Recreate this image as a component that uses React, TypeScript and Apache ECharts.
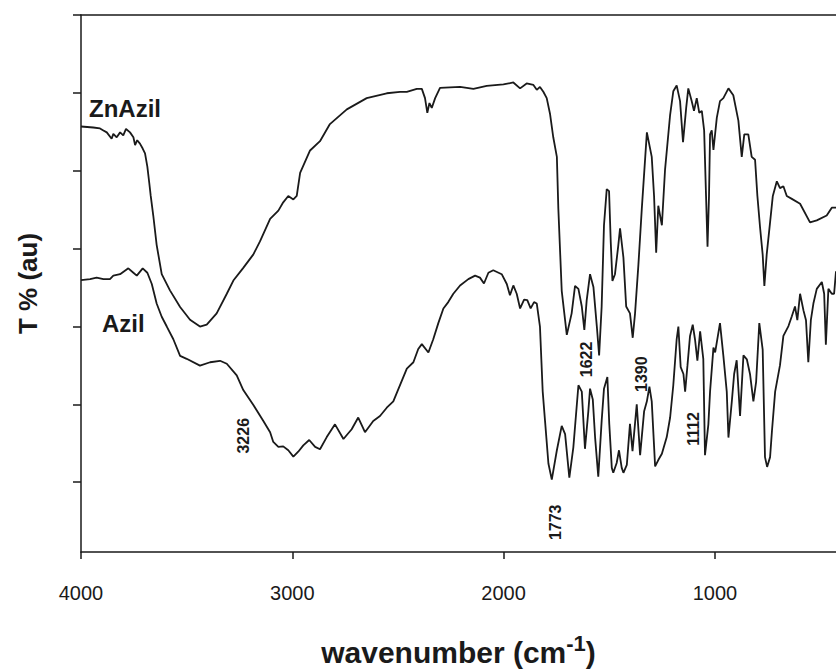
import React, { useEffect, useRef } from "react";
import * as echarts from "echarts";

// Axis extents (wavenumber runs right-to-left, transmittance in arbitrary units)
const X_RANGE: [number, number] = [427, 4000];
const Y_RANGE: [number, number] = [0, 109.8];
const X_TICKS = [4000, 3000, 2000, 1000];
const Y_TICKS = [14.3, 30.2, 46.1, 62.0, 77.9, 93.9, 109.8];

const SERIES_NAMES = ["ZnAzil", "Azil"];

// ZnAzil spectrum: [wavenumber cm-1, T (au)]
const ZN_AZIL: [number, number][] = [
  [4000, 87.0], [3942, 86.8], [3910, 86.6], [3894, 86.2], [3878, 85.8], [3855, 84.5],
  [3847, 85.5], [3831, 84.8], [3815, 85.8], [3800, 85.2], [3787, 86.5], [3768, 85.8],
  [3752, 84.8], [3744, 83.2], [3734, 84.2], [3721, 83.5], [3708, 82.5], [3697, 81.5],
  [3686, 78.8], [3677, 75.5], [3670, 72.8], [3658, 68.8], [3642, 62.8], [3618, 56.8],
  [3579, 53.5], [3531, 50.1], [3484, 47.5], [3437, 46.1], [3405, 46.5], [3358, 48.8],
  [3310, 52.8], [3279, 55.5], [3232, 58.1], [3185, 60.8], [3153, 63.5], [3105, 68.1],
  [3066, 69.8], [3043, 71.5], [3019, 72.8], [2995, 72.1], [2979, 72.8], [2963, 77.5],
  [2916, 82.1], [2869, 84.0], [2822, 87.5], [2742, 90.5], [2648, 92.8], [2553, 93.8],
  [2490, 94.1], [2458, 94.1], [2411, 94.7], [2387, 94.7], [2372, 92.8], [2361, 89.8],
  [2351, 91.8], [2340, 90.8], [2324, 92.8], [2301, 94.9], [2206, 95.1], [2143, 94.7],
  [2080, 95.3], [2001, 95.6], [1954, 96.0], [1922, 94.8], [1891, 95.8], [1859, 95.5],
  [1843, 94.5], [1828, 95.1], [1812, 94.1], [1796, 92.8], [1780, 89.5], [1765, 84.8],
  [1748, 80.8], [1741, 70.2], [1725, 53.4], [1701, 44.4], [1678, 48.8], [1662, 54.4],
  [1646, 53.8], [1630, 50.2], [1618, 45.4], [1607, 51.4], [1591, 56.8], [1575, 54.2],
  [1559, 46.2], [1548, 40.2], [1536, 50.2], [1525, 66.8], [1512, 74.2], [1501, 73.8],
  [1493, 63.4], [1485, 55.4], [1473, 56.8], [1457, 62.8], [1449, 66.2], [1433, 60.2],
  [1420, 50.2], [1402, 48.8], [1389, 43.8], [1378, 48.8], [1362, 58.8], [1346, 70.2],
  [1322, 85.8], [1299, 80.8], [1288, 72.8], [1278, 61.2], [1268, 70.8], [1251, 66.8],
  [1236, 78.2], [1212, 89.4], [1197, 94.2], [1181, 95.4], [1165, 92.2], [1151, 83.8],
  [1136, 90.8], [1126, 94.8], [1110, 92.2], [1099, 90.2], [1086, 92.8], [1074, 89.8],
  [1062, 90.2], [1051, 86.2], [1042, 72.8], [1035, 62.4], [1028, 72.8], [1023, 85.4],
  [1015, 86.2], [1007, 82.2], [991, 88.8], [976, 92.2], [960, 92.8], [936, 94.8],
  [913, 93.4], [889, 88.2], [873, 80.8], [861, 85.4], [842, 85.4], [826, 80.8],
  [810, 80.2], [799, 72.8], [786, 66.2], [774, 60.8], [766, 54.4], [755, 60.8],
  [739, 67.4], [726, 72.8], [707, 75.8], [692, 74.4], [676, 74.8], [660, 72.8],
  [636, 72.2], [597, 71.2], [550, 67.4], [518, 67.8], [471, 68.8], [447, 70.4], [427, 70.4],
];

// Azil spectrum: [wavenumber cm-1, T (au)]
const AZIL: [number, number][] = [
  [4000, 55.6], [3957, 55.8], [3926, 56.1], [3894, 55.8], [3863, 55.8], [3847, 56.5],
  [3815, 56.8], [3776, 58.0], [3752, 57.1], [3736, 56.5], [3708, 58.0], [3686, 57.1],
  [3665, 54.8], [3642, 50.8], [3618, 48.1], [3594, 46.1], [3563, 43.5], [3531, 40.1],
  [3500, 39.5], [3437, 38.1], [3389, 38.8], [3342, 39.1], [3310, 38.5], [3263, 36.1],
  [3232, 33.1], [3185, 30.1], [3137, 26.8], [3105, 24.5], [3090, 22.5], [3066, 21.5],
  [3043, 21.6], [3019, 20.8], [2995, 19.5], [2972, 20.5], [2948, 21.8], [2920, 22.9],
  [2892, 21.5], [2869, 21.0], [2837, 23.5], [2798, 26.1], [2758, 23.1], [2719, 25.1],
  [2688, 27.5], [2656, 24.5], [2617, 26.8], [2585, 27.8], [2553, 29.5], [2522, 30.8],
  [2503, 32.8], [2458, 37.5], [2427, 38.8], [2404, 41.5], [2387, 42.5], [2356, 40.8],
  [2333, 43.5], [2309, 46.8], [2285, 49.8], [2262, 51.1], [2238, 52.8], [2206, 54.5],
  [2167, 55.8], [2135, 56.5], [2112, 56.1], [2093, 54.9], [2072, 57.1], [2049, 57.6],
  [2009, 56.8], [1985, 54.8], [1970, 52.5], [1954, 54.5], [1938, 52.8], [1922, 49.8],
  [1903, 51.6], [1888, 51.5], [1872, 49.8], [1856, 51.1], [1843, 50.8], [1828, 46.1],
  [1815, 32.8], [1804, 26.8], [1788, 18.1], [1772, 14.8], [1748, 20.8], [1725, 25.8],
  [1709, 24.1], [1689, 15.2], [1670, 21.4], [1646, 34.1], [1630, 32.8], [1615, 21.1],
  [1599, 28.8], [1591, 33.4], [1578, 31.2], [1567, 23.4], [1552, 15.4], [1536, 26.8],
  [1525, 33.4], [1509, 35.8], [1500, 26.2], [1488, 17.2], [1481, 16.2], [1465, 18.2],
  [1454, 20.8], [1441, 17.2], [1433, 16.2], [1417, 17.8], [1402, 26.2], [1390, 20.6],
  [1370, 30.2], [1354, 19.8], [1335, 28.8], [1322, 30.8], [1310, 33.8], [1299, 30.8],
  [1283, 17.5], [1268, 18.8], [1251, 20.1], [1228, 23.5], [1212, 27.5], [1197, 34.1],
  [1181, 43.5], [1173, 46.1], [1162, 37.8], [1149, 36.4], [1141, 32.8], [1130, 38.1],
  [1118, 44.1], [1105, 46.5], [1094, 43.4], [1083, 39.1], [1070, 45.1], [1055, 39.5],
  [1047, 19.8], [1031, 26.1], [1023, 32.8], [1007, 41.8], [999, 40.8], [976, 46.8],
  [960, 40.1], [944, 32.8], [936, 23.4], [920, 30.8], [909, 36.4], [897, 39.2],
  [881, 27.8], [865, 40.2], [849, 39.4], [834, 36.4], [818, 30.8], [805, 34.8],
  [790, 46.8], [774, 41.4], [763, 19.4], [753, 17.4], [739, 19.4], [730, 24.8],
  [715, 32.8], [692, 38.2], [676, 44.2], [652, 46.2], [636, 48.2], [621, 50.2],
  [610, 47.4], [597, 52.8], [581, 49.4], [569, 47.4], [558, 38.8], [546, 47.4],
  [534, 50.8], [518, 53.8], [494, 55.2], [483, 52.8], [475, 42.4], [463, 53.8],
  [447, 52.8], [436, 52.8], [427, 57.4],
];

// Band assignments written beside the spectra: [wavenumber, label anchor height]
const PEAK_TEXT = ["3226", "1773", "1622", "1390", "1112"];
const PEAK_ANCHORS: [number, number][] = [
  [3226, 25.2], [1773, 7.5], [1622, 40.8], [1390, 37.8], [1112, 26.6],
];
const PEAK_SHIFT = [-1, 4, 3, 9, 2];

const FONT = '"Liberation Sans", Arial, Helvetica, sans-serif';
const INK = "#1a1a1a";

export default function App() {
  const ref = useRef<HTMLDivElement>(null);

  useEffect(() => {
    document.body.style.margin = "0";
    const chart = echarts.init(ref.current!, undefined, { renderer: "svg" });

    const axisLineStyle = { color: INK, width: 1.5 };
    const peakLabelStyle = {
      show: true,
      position: "inside",
      rotate: 90,
      fontSize: 16,
      fontWeight: "bold",
      color: INK,
      textBorderWidth: 0,
      textBorderColor: "transparent",
      fontFamily: FONT,
    };

    chart.setOption({
      animation: false,
      backgroundColor: "#ffffff",
      textStyle: { fontFamily: FONT },
      grid: { left: 81, right: 0, top: 15, bottom: 108 },
      xAxis: [
        {
          type: "value",
          min: X_RANGE[0],
          max: X_RANGE[1],
          inverse: true,
          axisLine: { show: true, onZero: false, lineStyle: axisLineStyle },
          axisTick: { show: true, length: 7, customValues: X_TICKS, lineStyle: axisLineStyle },
          axisLabel: {
            customValues: X_TICKS,
            formatter: (v: number) => String(v),
            fontSize: 20,
            color: INK,
            margin: 31,
            fontFamily: FONT,
          },
          splitLine: { show: false },
          name: "{t|wavenumber (cm}{s|-1}{t|)}",
          nameLocation: "middle",
          nameGap: 80,
          nameTextStyle: {
            rich: {
              t: { fontSize: 30, fontWeight: "bold", color: INK, fontFamily: FONT, lineHeight: 40 },
              s: { fontSize: 22, fontWeight: "bold", color: INK, fontFamily: FONT, verticalAlign: "top", lineHeight: 24 },
            },
          },
        },
        {
          type: "value",
          position: "top",
          min: X_RANGE[0],
          max: X_RANGE[1],
          inverse: true,
          axisLine: { show: true, onZero: false, lineStyle: axisLineStyle },
          axisTick: { show: false },
          axisLabel: { show: false },
          splitLine: { show: false },
        },
      ],
      yAxis: {
        type: "value",
        min: Y_RANGE[0],
        max: Y_RANGE[1],
        axisLine: { show: true, onZero: false, lineStyle: axisLineStyle },
        axisTick: { show: true, length: 8, customValues: Y_TICKS, lineStyle: axisLineStyle },
        axisLabel: { show: false },
        splitLine: { show: false },
        name: "T % (au)",
        nameLocation: "middle",
        nameRotate: 90,
        nameGap: 40,
        nameTextStyle: { fontSize: 26, fontWeight: "bold", color: INK, fontFamily: FONT },
      },
      series: [
        {
          name: SERIES_NAMES[0],
          type: "line",
          data: ZN_AZIL,
          showSymbol: false,
          symbol: "none",
          lineStyle: { color: INK, width: 1.8 },
          silent: true,
        },
        {
          name: SERIES_NAMES[1],
          type: "line",
          data: AZIL,
          showSymbol: false,
          symbol: "none",
          lineStyle: { color: INK, width: 1.8 },
          silent: true,
        },
        {
          type: "scatter",
          symbolSize: 0,
          silent: true,
          itemStyle: { color: INK, opacity: 1 },
          data: PEAK_ANCHORS.map((p, i) => ({
            value: p,
            label: { ...peakLabelStyle, formatter: PEAK_TEXT[i], offset: [-7, PEAK_SHIFT[i]] },
          })),
          label: peakLabelStyle,
        },
      ],
      graphic: [
        {
          type: "text",
          x: 89,
          y: 108.4,
          style: {
            text: SERIES_NAMES[0],
            fontSize: 24,
            fontWeight: "bold",
            fontFamily: FONT,
            fill: INK,
            verticalAlign: "middle",
          },
        },
        {
          type: "text",
          x: 102,
          y: 323.4,
          style: {
            text: SERIES_NAMES[1],
            fontSize: 24,
            fontWeight: "bold",
            fontFamily: FONT,
            fill: INK,
            verticalAlign: "middle",
          },
        },
      ],
    });

    return () => chart.dispose();
  }, []);

  return <div ref={ref} style={{ width: 836, height: 672, background: "#ffffff" }} />;
}
